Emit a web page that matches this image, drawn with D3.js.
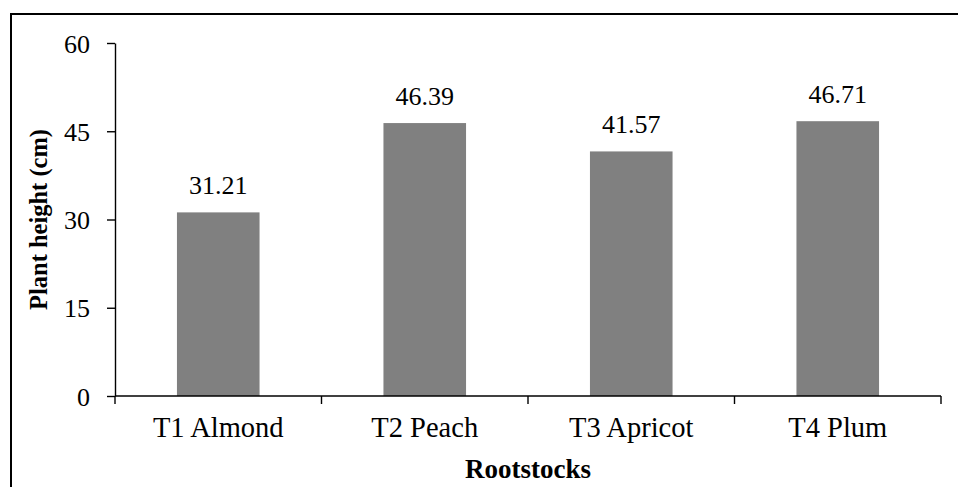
<!DOCTYPE html>
<html>
<head>
<meta charset="utf-8">
<script src="https://cdn.jsdelivr.net/npm/d3@7"></script>
<style>
  html, body { margin: 0; padding: 0; background: #fff; }
  svg { display: block; }
  text { font-family: "Liberation Serif", "Times New Roman", serif; fill: #000; }
</style>
</head>
<body>
<svg id="chart" width="958" height="487"></svg>
<script>
// Plant height by rootstock
const categories = ["T1 Almond", "T2 Peach", "T3 Apricot", "T4 Plum"];
const heights = [31.21, 46.39, 41.57, 46.71];
const yTicks = [0, 15, 30, 45, 60];

const svg = d3.select("#chart");
const W = 958, H = 487;
const plot = { left: 115, right: 941, top: 43, bottom: 396 };

// frame around the figure
svg.append("rect")
  .attr("x", 11).attr("y", 14)
  .attr("width", W + 10).attr("height", H + 10)
  .attr("fill", "none").attr("stroke", "#000").attr("stroke-width", 2);

const x = d3.scaleBand().domain(categories)
  .range([plot.left, plot.right]).paddingInner(0.6).paddingOuter(0.3);
const y = d3.scaleLinear().domain([0, 60]).range([plot.bottom, plot.top]);

// bars
svg.append("g").selectAll("rect").data(heights).join("rect")
  .attr("x", (d, i) => x(categories[i]))
  .attr("y", d => y(d))
  .attr("width", x.bandwidth())
  .attr("height", d => y(0) - y(d))
  .attr("fill", "#808080");

// value labels
svg.append("g").selectAll("text").data(heights).join("text")
  .attr("x", (d, i) => x(categories[i]) + x.bandwidth() / 2)
  .attr("y", d => y(d) - 18)
  .attr("text-anchor", "middle")
  .attr("font-size", 26)
  .text(d => d.toFixed(2));

// y axis
const yAxis = svg.append("g")
  .attr("transform", `translate(${plot.left},0)`)
  .call(d3.axisLeft(y).tickValues(yTicks).tickSize(8).tickPadding(17).tickSizeOuter(0));
yAxis.select(".domain").attr("stroke", "#000").attr("stroke-width", 1.4);
yAxis.selectAll(".tick line").attr("stroke", "#000").attr("stroke-width", 1.4);
yAxis.selectAll(".tick text").attr("font-size", 26).attr("dy", "0.35em").attr("fill", "#000");

// x axis: baseline with ticks at category boundaries
const xg = svg.append("g");
xg.append("line")
  .attr("x1", plot.left).attr("x2", plot.right)
  .attr("y1", plot.bottom).attr("y2", plot.bottom)
  .attr("stroke", "#000").attr("stroke-width", 1.4);
const bounds = d3.range(categories.length + 1).map(i => plot.left + i * (plot.right - plot.left) / categories.length);
xg.selectAll("line.b").data(bounds).join("line")
  .attr("class", "b")
  .attr("x1", d => d).attr("x2", d => d)
  .attr("y1", plot.bottom).attr("y2", plot.bottom + 8)
  .attr("stroke", "#000").attr("stroke-width", 1.4);
xg.selectAll("text").data(categories).join("text")
  .attr("x", d => x(d) + x.bandwidth() / 2)
  .attr("y", 437)
  .attr("text-anchor", "middle")
  .attr("font-size", 28.5)
  .text(d => d);

// axis titles
svg.append("text")
  .attr("x", (plot.left + plot.right) / 2).attr("y", 478)
  .attr("text-anchor", "middle")
  .attr("font-size", 27).attr("font-weight", "bold")
  .text("Rootstocks");

svg.append("text")
  .attr("transform", `translate(47,${(plot.top + plot.bottom) / 2}) rotate(-90)`)
  .attr("text-anchor", "middle")
  .attr("font-size", 24.5).attr("font-weight", "bold")
  .text("Plant height (cm)");
</script>
</body>
</html>
